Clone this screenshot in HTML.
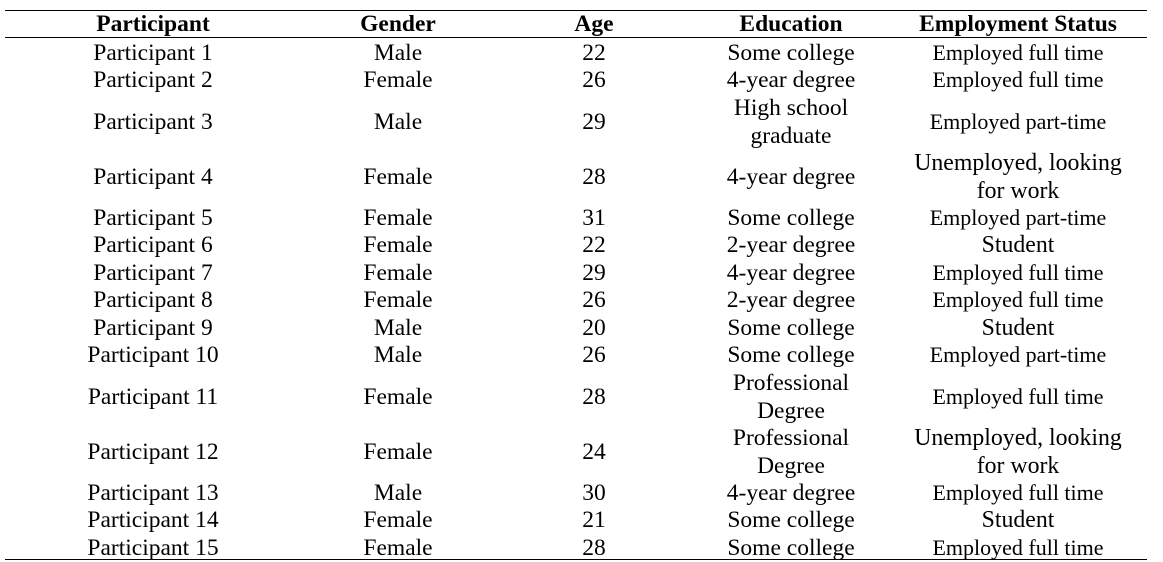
<!DOCTYPE html>
<html><head><meta charset="utf-8"><style>
body{margin:0;width:1163px;height:562px;background:#fff;position:relative;overflow:hidden;font-family:"Liberation Serif",serif;color:#000}
.line{position:absolute;left:5px;width:1142px;height:1.3px;background:#000}
.row{position:absolute;left:0;width:1163px}
.c{position:absolute;top:1px;height:100%;display:flex;align-items:center;justify-content:center;text-align:center;font-size:23.5px;line-height:28px;transform:translateX(-50%);white-space:nowrap}
.c.e{font-size:22px}
.c.big{font-size:23.8px}
.h .c{font-weight:bold;font-size:23.5px}
</style></head><body>
<div class="line" style="top:9.5px"></div>
<div class="line" style="top:36.5px"></div>
<div class="line" style="top:558.5px"></div>
<div class="row h" style="top:9px;height:27px">
<div class="c" style="left:153px">Participant</div>
<div class="c" style="left:398px">Gender</div>
<div class="c" style="left:594px">Age</div>
<div class="c" style="left:791px">Education</div>
<div class="c" style="left:1018px">Employment Status</div>
</div>
<div id="body"></div>
<script>
const rows=[
["Participant 1","Male","22","Some college","Employed full time",1],
["Participant 2","Female","26","4-year degree","Employed full time",1],
["Participant 3","Male","29","High school<br>graduate","Employed part-time",2],
["Participant 4","Female","28","4-year degree","Unemployed, looking<br>for work",2],
["Participant 5","Female","31","Some college","Employed part-time",1],
["Participant 6","Female","22","2-year degree","Student",1],
["Participant 7","Female","29","4-year degree","Employed full time",1],
["Participant 8","Female","26","2-year degree","Employed full time",1],
["Participant 9","Male","20","Some college","Student",1],
["Participant 10","Male","26","Some college","Employed part-time",1],
["Participant 11","Female","28","Professional<br>Degree","Employed full time",2],
["Participant 12","Female","24","Professional<br>Degree","Unemployed, looking<br>for work",2],
["Participant 13","Male","30","4-year degree","Employed full time",1],
["Participant 14","Female","21","Some college","Student",1],
["Participant 15","Female","28","Some college","Employed full time",1]];
const xs=[153,398,594,791,1018];
const names=["participant","gender","age","education","employment"];
let y=38;
const body=document.getElementById('body');
rows.forEach((r,i)=>{
  const h=r[5]*27.5;
  const d=document.createElement('div');
  d.className='row';d.style.top=y+'px';d.style.height=h+'px';
  
  
  for(let k=0;k<5;k++){
    const c=document.createElement('div');
    let cls='c';
    if(k==4) cls+=(/Unemployed|Student/.test(r[k])?' big':' e');
    c.className=cls;c.style.left=xs[k]+'px';c.innerHTML=r[k];
    
    
    d.appendChild(c);
  }
  body.appendChild(d);y+=h;
});
</script>
</body></html>
